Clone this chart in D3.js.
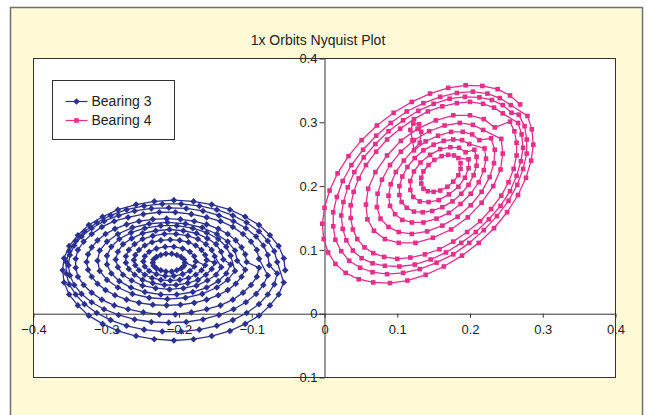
<!DOCTYPE html>
<html lang="en">
<head>
<meta charset="UTF-8">
<title>1x Orbits Nyquist Plot</title>
<script src="https://d3js.org/d3.v7.min.js"></script>
<style>
  body { margin: 0; background: #fff; font-family: "Liberation Sans", Arial, sans-serif; }
  svg text { fill: #222; }
</style>
</head>
<body>
<div id="chart"></div>
<script>
const chartTitle = "1x Orbits Nyquist Plot";
const seriesNames = ["Bearing 3", "Bearing 4"];
const seriesColors = ["#2b3190", "#e62e8b"];
const xTicks = [-0.4, -0.3, -0.2, -0.1, 0, 0.1, 0.2, 0.3, 0.4];
const xTickLabels = ["\u22120.4", "\u22120.3", "\u22120.2", "\u22120.1", "0", "0.1", "0.2", "0.3", "0.4"];
const yTicks = [-0.1, 0, 0.1, 0.2, 0.3, 0.4];
const yTickLabels = ["\u22120.1", "0", "0.1", "0.2", "0.3", "0.4"];

// Bearing 3 orbit, read ring by ring from outside in
const bearing3 = [
  [-0.054,0.068],[-0.056,0.087],[-0.063,0.106],[-0.075,0.123],[-0.090,0.139],[-0.109,0.152],[-0.130,0.163],[-0.155,0.171],[-0.180,0.176],[-0.207,0.178],[-0.234,0.176],[-0.259,0.171],[-0.284,0.163],[-0.305,0.152],[-0.324,0.139],[-0.339,0.123],[-0.351,0.106],[-0.358,0.087],[-0.360,0.068],[-0.358,0.049],[-0.351,0.030],[-0.339,0.013],[-0.324,-0.003],[-0.305,-0.016],[-0.284,-0.027],[-0.259,-0.035],[-0.234,-0.040],[-0.207,-0.042],[-0.180,-0.040],[-0.155,-0.035],[-0.130,-0.027],[-0.109,-0.016],[-0.090,-0.003],[-0.075,0.013],[-0.063,0.030],[-0.056,0.049],
  [-0.065,0.081],[-0.069,0.098],[-0.078,0.114],[-0.090,0.129],[-0.107,0.143],[-0.126,0.154],[-0.148,0.163],[-0.172,0.169],[-0.197,0.172],[-0.223,0.172],[-0.248,0.169],[-0.272,0.163],[-0.294,0.154],[-0.313,0.143],[-0.330,0.129],[-0.342,0.114],[-0.351,0.098],[-0.355,0.081],[-0.355,0.063],[-0.351,0.046],[-0.342,0.030],[-0.330,0.015],[-0.313,0.001],[-0.294,-0.010],[-0.272,-0.019],[-0.248,-0.025],[-0.223,-0.028],[-0.197,-0.028],[-0.172,-0.025],[-0.148,-0.019],[-0.126,-0.010],[-0.107,0.001],[-0.090,0.015],[-0.078,0.030],[-0.069,0.046],[-0.065,0.063],
  [-0.076,0.076],[-0.078,0.092],[-0.084,0.107],[-0.094,0.121],[-0.108,0.134],[-0.125,0.145],[-0.145,0.154],[-0.167,0.161],[-0.190,0.165],[-0.214,0.166],[-0.238,0.165],[-0.261,0.161],[-0.283,0.154],[-0.303,0.145],[-0.320,0.134],[-0.334,0.121],[-0.344,0.107],[-0.350,0.092],[-0.352,0.076],[-0.350,0.060],[-0.344,0.045],[-0.334,0.031],[-0.320,0.018],[-0.303,0.007],[-0.283,-0.002],[-0.261,-0.009],[-0.238,-0.013],[-0.214,-0.014],[-0.190,-0.013],[-0.167,-0.009],[-0.145,-0.002],[-0.125,0.007],[-0.108,0.018],[-0.094,0.031],[-0.084,0.045],[-0.078,0.060],
  [-0.090,0.086],[-0.093,0.100],[-0.101,0.113],[-0.112,0.125],[-0.126,0.136],[-0.143,0.145],[-0.162,0.151],[-0.183,0.156],[-0.205,0.159],[-0.227,0.159],[-0.249,0.156],[-0.270,0.151],[-0.289,0.145],[-0.306,0.136],[-0.320,0.125],[-0.331,0.113],[-0.339,0.100],[-0.342,0.086],[-0.342,0.072],[-0.339,0.058],[-0.331,0.045],[-0.320,0.033],[-0.306,0.022],[-0.289,0.013],[-0.270,0.007],[-0.249,0.002],[-0.227,-0.001],[-0.205,-0.001],[-0.183,0.002],[-0.162,0.007],[-0.143,0.013],[-0.126,0.022],[-0.112,0.033],[-0.101,0.045],[-0.093,0.058],[-0.090,0.072],
  [-0.107,0.081],[-0.109,0.093],[-0.114,0.104],[-0.122,0.115],[-0.133,0.125],[-0.146,0.133],[-0.162,0.140],[-0.179,0.145],[-0.198,0.148],[-0.217,0.149],[-0.236,0.148],[-0.255,0.145],[-0.272,0.140],[-0.288,0.133],[-0.301,0.125],[-0.312,0.115],[-0.320,0.104],[-0.325,0.093],[-0.327,0.081],[-0.325,0.069],[-0.320,0.058],[-0.312,0.047],[-0.301,0.037],[-0.288,0.029],[-0.272,0.022],[-0.255,0.017],[-0.236,0.014],[-0.217,0.013],[-0.198,0.014],[-0.179,0.017],[-0.162,0.022],[-0.146,0.029],[-0.133,0.037],[-0.122,0.047],[-0.114,0.058],[-0.109,0.069],
  [-0.120,0.083],[-0.123,0.099],[-0.133,0.113],[-0.148,0.125],[-0.168,0.135],[-0.191,0.141],[-0.216,0.143],[-0.241,0.141],[-0.264,0.135],[-0.284,0.125],[-0.299,0.113],[-0.309,0.099],[-0.312,0.083],[-0.309,0.067],[-0.299,0.053],[-0.284,0.041],[-0.264,0.031],[-0.241,0.025],[-0.216,0.023],[-0.191,0.025],[-0.168,0.031],[-0.148,0.041],[-0.133,0.053],[-0.123,0.067],
  [-0.129,0.091],[-0.135,0.105],[-0.146,0.117],[-0.162,0.127],[-0.181,0.134],[-0.203,0.138],[-0.225,0.138],[-0.247,0.134],[-0.266,0.127],[-0.282,0.117],[-0.293,0.105],[-0.299,0.091],[-0.299,0.077],[-0.293,0.063],[-0.282,0.051],[-0.266,0.041],[-0.247,0.034],[-0.225,0.030],[-0.203,0.030],[-0.181,0.034],[-0.162,0.041],[-0.146,0.051],[-0.135,0.063],[-0.129,0.077],
  [-0.139,0.085],[-0.142,0.097],[-0.149,0.109],[-0.161,0.118],[-0.176,0.126],[-0.194,0.130],[-0.213,0.132],[-0.232,0.130],[-0.250,0.126],[-0.265,0.118],[-0.277,0.109],[-0.284,0.097],[-0.287,0.085],[-0.284,0.073],[-0.277,0.061],[-0.265,0.052],[-0.250,0.044],[-0.232,0.040],[-0.213,0.038],[-0.194,0.040],[-0.176,0.044],[-0.161,0.052],[-0.149,0.061],[-0.142,0.073],
  [-0.151,0.090],[-0.155,0.100],[-0.163,0.109],[-0.174,0.117],[-0.188,0.122],[-0.204,0.125],[-0.220,0.125],[-0.236,0.122],[-0.250,0.117],[-0.261,0.109],[-0.269,0.100],[-0.273,0.090],[-0.273,0.080],[-0.269,0.070],[-0.261,0.061],[-0.250,0.053],[-0.236,0.048],[-0.220,0.045],[-0.204,0.045],[-0.188,0.048],[-0.174,0.053],[-0.163,0.061],[-0.155,0.070],[-0.151,0.080],
  [-0.162,0.084],[-0.164,0.092],[-0.169,0.100],[-0.177,0.107],[-0.187,0.112],[-0.199,0.115],[-0.212,0.116],[-0.225,0.115],[-0.237,0.112],[-0.247,0.107],[-0.255,0.100],[-0.260,0.092],[-0.262,0.084],[-0.260,0.076],[-0.255,0.068],[-0.247,0.061],[-0.237,0.056],[-0.225,0.053],[-0.212,0.052],[-0.199,0.053],[-0.187,0.056],[-0.177,0.061],[-0.169,0.068],[-0.164,0.076],
  [-0.177,0.082],[-0.179,0.090],[-0.185,0.097],[-0.195,0.102],[-0.207,0.105],[-0.219,0.105],[-0.231,0.102],[-0.241,0.097],[-0.247,0.090],[-0.249,0.082],[-0.247,0.074],[-0.241,0.067],[-0.231,0.062],[-0.219,0.059],[-0.207,0.059],[-0.195,0.062],[-0.185,0.067],[-0.179,0.074],
  [-0.192,0.080],[-0.193,0.085],[-0.197,0.089],[-0.203,0.092],[-0.210,0.094],[-0.218,0.094],[-0.225,0.092],[-0.231,0.089],[-0.235,0.085],[-0.236,0.080],[-0.235,0.075],[-0.231,0.071],[-0.225,0.068],[-0.218,0.066],[-0.210,0.066],[-0.203,0.068],[-0.197,0.071],[-0.193,0.075]
];

// Bearing 4 orbit, tilted rings from outside in
const bearing4 = [
  [0.269,0.328],[0.255,0.342],[0.238,0.352],[0.217,0.357],[0.194,0.358],[0.170,0.354],[0.145,0.345],[0.120,0.332],[0.095,0.315],[0.072,0.295],[0.051,0.272],[0.033,0.247],[0.018,0.220],[0.007,0.193],[0.000,0.166],[-0.003,0.141],[-0.001,0.117],[0.005,0.096],[0.015,0.078],[0.029,0.064],[0.047,0.054],[0.067,0.049],[0.090,0.048],[0.114,0.052],[0.139,0.061],[0.164,0.074],[0.189,0.091],[0.212,0.111],[0.233,0.134],[0.251,0.159],[0.266,0.186],[0.277,0.213],[0.284,0.240],[0.287,0.265],[0.285,0.289],[0.279,0.310],
  [0.256,0.327],[0.241,0.338],[0.224,0.345],[0.204,0.348],[0.182,0.346],[0.159,0.340],[0.136,0.330],[0.113,0.317],[0.091,0.299],[0.071,0.279],[0.053,0.257],[0.037,0.233],[0.025,0.208],[0.017,0.183],[0.012,0.159],[0.012,0.137],[0.015,0.116],[0.023,0.098],[0.034,0.083],[0.049,0.072],[0.066,0.065],[0.086,0.062],[0.108,0.064],[0.131,0.070],[0.154,0.080],[0.177,0.093],[0.199,0.111],[0.219,0.131],[0.237,0.153],[0.253,0.177],[0.265,0.202],[0.273,0.227],[0.278,0.251],[0.278,0.273],[0.275,0.294],[0.267,0.312],
  [0.257,0.315],[0.245,0.327],[0.230,0.335],[0.213,0.339],[0.193,0.340],[0.172,0.337],[0.150,0.329],[0.129,0.318],[0.108,0.303],[0.088,0.286],[0.070,0.266],[0.054,0.245],[0.041,0.222],[0.032,0.198],[0.026,0.175],[0.023,0.154],[0.025,0.133],[0.030,0.115],[0.039,0.099],[0.051,0.087],[0.066,0.079],[0.083,0.075],[0.103,0.074],[0.124,0.077],[0.146,0.085],[0.167,0.096],[0.188,0.111],[0.208,0.128],[0.226,0.148],[0.242,0.169],[0.255,0.192],[0.264,0.216],[0.270,0.239],[0.273,0.260],[0.271,0.281],[0.266,0.299],
  [0.245,0.314],[0.233,0.323],[0.218,0.329],[0.200,0.332],[0.182,0.330],[0.162,0.325],[0.142,0.317],[0.123,0.305],[0.104,0.290],[0.086,0.273],[0.071,0.254],[0.057,0.233],[0.047,0.212],[0.040,0.191],[0.036,0.170],[0.036,0.150],[0.039,0.132],[0.045,0.117],[0.055,0.104],[0.067,0.095],[0.082,0.089],[0.100,0.086],[0.118,0.088],[0.138,0.093],[0.158,0.101],[0.177,0.113],[0.196,0.128],[0.214,0.145],[0.229,0.164],[0.243,0.185],[0.253,0.206],[0.260,0.227],[0.264,0.248],[0.264,0.268],[0.261,0.286],[0.255,0.301],
  [0.234,0.292],[0.219,0.305],[0.200,0.311],[0.177,0.311],[0.153,0.303],[0.128,0.290],[0.105,0.271],[0.086,0.248],[0.070,0.222],[0.060,0.196],[0.057,0.171],[0.059,0.148],[0.068,0.130],[0.083,0.117],[0.102,0.111],[0.125,0.111],[0.149,0.119],[0.174,0.132],[0.197,0.151],[0.216,0.174],[0.232,0.200],[0.242,0.226],[0.245,0.251],[0.243,0.274],
  [0.218,0.288],[0.204,0.296],[0.186,0.299],[0.165,0.295],[0.144,0.286],[0.123,0.272],[0.105,0.254],[0.090,0.233],[0.079,0.210],[0.073,0.188],[0.072,0.167],[0.077,0.149],[0.088,0.136],[0.102,0.128],[0.120,0.125],[0.141,0.129],[0.162,0.138],[0.183,0.152],[0.201,0.170],[0.216,0.191],[0.227,0.214],[0.233,0.236],[0.234,0.257],[0.229,0.275],
  [0.213,0.272],[0.203,0.281],[0.190,0.285],[0.174,0.285],[0.156,0.279],[0.139,0.270],[0.123,0.256],[0.121,0.272],[0.118,0.288],[0.122,0.298],[0.130,0.297],[0.133,0.285],[0.131,0.268],[0.109,0.240],[0.098,0.222],[0.091,0.203],[0.088,0.185],[0.090,0.169],[0.097,0.156],[0.107,0.147],[0.120,0.143],[0.136,0.143],[0.154,0.149],[0.171,0.158],[0.187,0.172],[0.201,0.188],[0.212,0.206],[0.219,0.225],[0.222,0.243],[0.220,0.259],
  [0.199,0.266],[0.189,0.272],[0.177,0.273],[0.164,0.271],[0.150,0.265],[0.136,0.256],[0.124,0.244],[0.114,0.230],[0.107,0.215],[0.103,0.200],[0.103,0.186],[0.106,0.175],[0.113,0.166],[0.123,0.160],[0.135,0.159],[0.148,0.161],[0.162,0.167],[0.176,0.176],[0.188,0.188],[0.198,0.202],[0.205,0.217],[0.209,0.232],[0.209,0.246],[0.206,0.257],
  [0.194,0.253],[0.185,0.260],[0.173,0.261],[0.159,0.258],[0.145,0.249],[0.132,0.237],[0.123,0.223],[0.118,0.208],[0.118,0.194],[0.122,0.183],[0.131,0.176],[0.143,0.175],[0.157,0.178],[0.171,0.187],[0.184,0.199],[0.193,0.213],[0.198,0.228],[0.198,0.242],
  [0.184,0.244],[0.178,0.248],[0.170,0.249],[0.161,0.247],[0.151,0.241],[0.143,0.233],[0.136,0.223],[0.133,0.213],[0.133,0.204],[0.136,0.196],[0.142,0.192],[0.150,0.191],[0.159,0.193],[0.169,0.199],[0.177,0.207],[0.184,0.217],[0.187,0.227],[0.187,0.236]
];

const width = 648, height = 415;
const plot = { left: 33.5, right: 615.5, top: 58.5, bottom: 377.5 };

const svg = d3.select("#chart").append("svg")
  .attr("width", width)
  .attr("height", height);

// chart area (pale yellow frame)
svg.append("rect")
  .attr("x", 10.5).attr("y", 7.5)
  .attr("width", 632).attr("height", 420)
  .attr("fill", "#fffad6")
  .attr("stroke", "#707070")
  .attr("stroke-width", 1.5);

// plot area
svg.append("rect")
  .attr("x", plot.left).attr("y", plot.top)
  .attr("width", plot.right - plot.left).attr("height", plot.bottom - plot.top)
  .attr("fill", "#fff")
  .attr("stroke", "#333");

svg.append("text")
  .attr("x", 318).attr("y", 45)
  .attr("text-anchor", "middle")
  .attr("font-size", "14px")
  .text(chartTitle);

const x = d3.scaleLinear().domain([-0.4, 0.4]).range([plot.left, plot.right]);
const y = d3.scaleLinear().domain([-0.1, 0.4]).range([plot.bottom, plot.top]);

// axes cross at zero
const xAxis = svg.append("g")
  .attr("transform", `translate(0,${y(0)})`)
  .call(d3.axisBottom(x).tickValues(xTicks).tickSize(4).tickSizeOuter(0).tickPadding(7)
    .tickFormat((d, i) => xTickLabels[i]));

const yAxis = svg.append("g")
  .attr("transform", `translate(${x(0)},0)`)
  .call(d3.axisLeft(y).tickValues(yTicks).tickSize(5).tickSizeOuter(0).tickPadding(2)
    .tickFormat((d, i) => yTickLabels[i]));

[xAxis, yAxis].forEach(g => {
  g.selectAll("path, line").attr("stroke", "#333");
  g.selectAll("text").attr("font-size", "13px").attr("fill", "#222")
    .attr("font-family", "'Liberation Sans', Arial, sans-serif");
});

const line = d3.line().x(d => x(d[0])).y(d => y(d[1]));
const diamond = "M0,-3.3L3.3,0L0,3.3L-3.3,0Z";

// Bearing 3
svg.append("path").datum(bearing3)
  .attr("d", line).attr("fill", "none")
  .attr("stroke", seriesColors[0]).attr("stroke-width", 1.3);
svg.append("g").selectAll("path").data(bearing3).enter().append("path")
  .attr("d", diamond)
  .attr("transform", d => `translate(${x(d[0])},${y(d[1])})`)
  .attr("fill", seriesColors[0]);

// Bearing 4
svg.append("path").datum(bearing4)
  .attr("d", line).attr("fill", "none")
  .attr("stroke", seriesColors[1]).attr("stroke-width", 1.3);
svg.append("g").selectAll("rect").data(bearing4).enter().append("rect")
  .attr("x", d => x(d[0]) - 2.3).attr("y", d => y(d[1]) - 2.3)
  .attr("width", 4.6).attr("height", 4.6)
  .attr("fill", seriesColors[1]);

// legend
const legend = svg.append("g").attr("transform", "translate(52.5,80.5)");
legend.append("rect")
  .attr("width", 122).attr("height", 59)
  .attr("fill", "#fff").attr("stroke", "#333");

seriesNames.forEach((name, i) => {
  const ly = 21 + i * 19;
  legend.append("line")
    .attr("x1", 13).attr("x2", 35).attr("y1", ly).attr("y2", ly)
    .attr("stroke", seriesColors[i]).attr("stroke-width", 1.2);
  if (i === 0) {
    legend.append("path").attr("d", diamond)
      .attr("transform", `translate(24,${ly})`).attr("fill", seriesColors[i]);
  } else {
    legend.append("rect").attr("x", 21.7).attr("y", ly - 2.3)
      .attr("width", 4.6).attr("height", 4.6).attr("fill", seriesColors[i]);
  }
  legend.append("text")
    .attr("x", 39).attr("y", ly).attr("dy", "0.35em")
    .attr("font-size", "14px")
    .text(name);
});
</script>
</body>
</html>
